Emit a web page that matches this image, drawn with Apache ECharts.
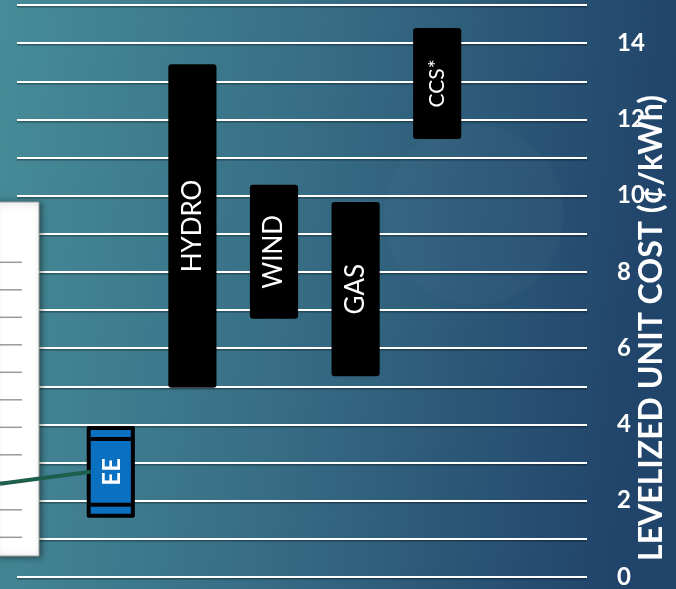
<!DOCTYPE html>
<html>
<head>
<meta charset="utf-8">
<script src="https://cdn.jsdelivr.net/npm/echarts@6/dist/echarts.min.js"></script>
<style>
  html, body { margin: 0; padding: 0; background: #2f6680; }
  #chart { width: 676px; height: 589px; }
</style>
</head>
<body>
<div id="chart"></div>
<script>
// Technologies and their levelized unit cost ranges (¢/kWh)
var technologies = ['EE', 'HYDRO', 'WIND', 'GAS', 'CCS*'];
var costLow  = [1.6, 5.0, 6.8, 5.3, 11.5];
var costHigh = [4.0, 13.45, 10.3, 9.85, 14.4];
var tickLabels = ['0', '2', '4', '6', '8', '10', '12', '14'];
var axisTitle = 'LEVELIZED UNIT COST (¢/kWh)';

var FONT = 'Lato';
var chart = echarts.init(document.getElementById('chart'), null, { renderer: 'canvas' });

var rangeData = technologies.map(function (t, i) { return [i, costLow[i], costHigh[i]]; });

function renderRange(params, api) {
  var idx = api.value(0);
  var lowPt = api.coord([idx, api.value(1)]);
  var highPt = api.coord([idx, api.value(2)]);
  var w = api.size([1, 0])[0] * 0.59;
  var x = lowPt[0] - w / 2;
  var y = highPt[1];
  var h = lowPt[1] - highPt[1];
  var name = technologies[idx];
  var children = [];
  if (name === 'EE') {
    // battery-style marker: black frame, blue body, black bands near the ends
    children.push({ type: 'rect', shape: { x: x, y: y, width: w, height: h, r: 2 }, style: { fill: '#000' } });
    children.push({ type: 'rect', shape: { x: x + 4, y: y + 4, width: w - 8, height: h - 8 }, style: { fill: '#0A70C2' } });
    children.push({ type: 'rect', shape: { x: x + 4, y: y + 11, width: w - 8, height: 4 }, style: { fill: '#000' } });
    children.push({ type: 'rect', shape: { x: x + 4, y: y + h - 15, width: w - 8, height: 4 }, style: { fill: '#000' } });
    children.push({
      type: 'text', x: lowPt[0] + 1, y: y + h / 2, rotation: Math.PI / 2,
      style: { text: name, fill: '#fff', font: 'bold 24px ' + FONT, align: 'center', verticalAlign: 'middle' }
    });
  } else {
    children.push({ type: 'rect', shape: { x: x, y: y, width: w, height: h, r: 3 }, style: { fill: '#000' } });
    children.push({
      type: 'text', x: lowPt[0], y: y + h / 2, rotation: Math.PI / 2,
      style: {
        text: name, fill: '#fff',
        font: (name === 'CCS*' ? '21px ' : '26px ') + FONT,
        align: 'center', verticalAlign: 'middle'
      }
    });
  }
  return { type: 'group', children: children };
}

var bg = new echarts.graphic.LinearGradient(0, 0, 1, 0.15, [
  { offset: 0, color: '#478C98' },
  { offset: 0.45, color: '#386F86' },
  { offset: 1, color: '#21446A' }
]);

// white inset panel with faint rule lines on the left
var panelLines = [];
for (var k = 0; k < 11; k++) {
  panelLines.push({
    type: 'line', z: 101,
    shape: { x1: 0, y1: 262.3 + k * 27.5, x2: 22, y2: 262.3 + k * 27.5 },
    style: { stroke: '#9a9a9a', lineWidth: 1.5 }
  });
}

chart.setOption({
  backgroundColor: bg,
  animation: false,
  grid: [
    { left: 17, right: 89, top: 5, bottom: 10 },
    { left: 70, right: 198, top: 5, bottom: 10 }
  ],
  xAxis: [
    { type: 'value', gridIndex: 0, min: 0, max: 1, show: false },
    { type: 'category', gridIndex: 1, data: technologies, show: false }
  ],
  yAxis: [
    {
      type: 'value', gridIndex: 0, position: 'right', min: 0, max: 15, interval: 1,
      axisLine: { show: false }, axisTick: { show: false },
      splitLine: {
        show: true,
        lineStyle: { color: '#ffffff', width: 2, shadowColor: 'rgba(0,0,0,0.35)', shadowBlur: 1, shadowOffsetY: 1.5 }
      },
      axisLabel: {
        margin: 30, color: '#fff', fontFamily: FONT, fontWeight: 'bold', fontSize: 24,
        formatter: function (v) { var s = String(v); return tickLabels.indexOf(s) >= 0 ? s : ''; }
      }
    },
    { type: 'value', gridIndex: 1, min: 0, max: 15, show: false }
  ],
  series: [
    {
      type: 'custom', xAxisIndex: 1, yAxisIndex: 1, renderItem: renderRange,
      data: rangeData, z: 5
    }
  ],
  graphic: [
    {
      type: 'circle', z: -1, silent: true,
      shape: { cx: 474, cy: 215, r: 90 },
      style: { fill: 'rgba(255,255,255,0.022)' }
    },
    {
      type: 'rect', z: 100,
      shape: { x: -6, y: 202, width: 45, height: 354 },
      style: { fill: '#ffffff', stroke: '#9a9a9a', lineWidth: 1, shadowColor: 'rgba(0,0,0,0.45)', shadowBlur: 6, shadowOffsetX: 2, shadowOffsetY: 1 }
    }
  ].concat(panelLines).concat([
    {
      type: 'text', z: 100, x: 652, y: 328, rotation: Math.PI / 2,
      style: { text: axisTitle, fill: '#fff', font: 'bold 32px ' + FONT, align: 'center', verticalAlign: 'middle' }
    }
  ])
});

// connector from the inset panel to the EE marker
var eeIdx = technologies.indexOf('EE');
var eeMid = chart.convertToPixel({ xAxisIndex: 1, yAxisIndex: 1 }, [eeIdx, (costLow[eeIdx] + costHigh[eeIdx]) / 2]);
var eeHalf = chart.getModel().getComponent('xAxis', 1).axis.getBandWidth() * 0.59 / 2;
chart.setOption({
  graphic: [
    {
      id: 'connector', type: 'line', z: 102,
      shape: { x1: 0, y1: eeMid[1] + 12, x2: eeMid[0] - eeHalf + 4, y2: eeMid[1] },
      style: { stroke: '#1E5E4C', lineWidth: 4 }
    }
  ]
});
</script>
</body>
</html>
